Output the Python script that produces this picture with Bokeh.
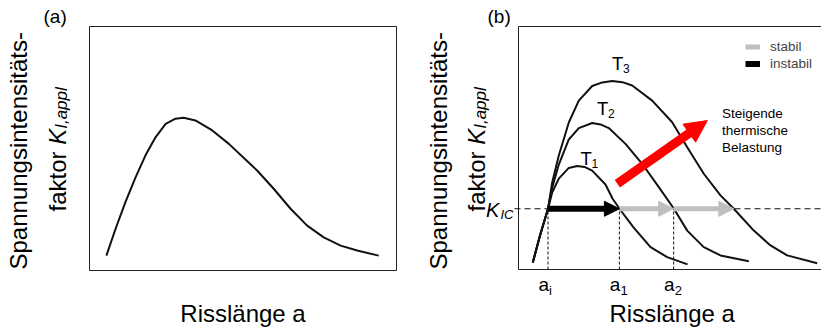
import numpy as np
from bokeh.plotting import figure
from bokeh.layouts import row
from bokeh.models import Range1d, Label, Arrow, NormalHead, Legend, LegendItem
from bokeh.embed import file_html
from bokeh.resources import INLINE

FONT = "Liberation Sans"

# ---------------- data: panel (a) ----------------
a_crack = [0.55, 0.85, 1.17, 1.50, 1.82, 2.15, 2.48, 2.80, 3.07, 3.45, 4.00,
           4.54, 5.08, 5.46, 6.00, 6.55, 7.09, 7.63, 8.18, 8.72, 9.42]
a_kappl = [0.61, 1.71, 2.80, 3.82, 4.71, 5.46, 6.01, 6.22, 6.26, 6.15, 5.74,
           5.19, 4.55, 4.10, 3.35, 2.53, 1.84, 1.36, 1.02, 0.82, 0.61]

# ---------------- data: panel (b) ----------------
t1_crack = [0.485, 0.729, 1.00, 1.142, 1.366, 1.705, 1.99, 2.237, 2.498, 2.949,
            3.186, 3.424, 3.898, 4.475, 5.04, 5.73]
t1_k = [0.29, 1.40, 2.50, 3.17, 3.74, 4.18, 4.26, 4.22, 4.07, 3.50,
        2.92, 2.50, 1.73, 0.92, 0.51, 0.21]

t2_crack = [0.485, 0.729, 1.00, 1.142, 1.366, 1.705, 2.044, 2.498, 2.78, 3.061, 3.627,
            4.193, 4.756, 5.264, 5.719, 6.281, 6.847, 7.807]
t2_k = [0.29, 1.40, 2.50, 3.37, 4.32, 5.35, 5.82, 6.03, 5.97, 5.82, 5.17,
        4.35, 3.39, 2.51, 1.60, 0.92, 0.58, 0.34]

t3_crack = [0.485, 0.729, 1.00, 1.142, 1.366, 1.705, 2.044, 2.498, 2.84, 3.176, 3.52,
            3.854, 4.532, 5.21, 5.719, 6.281, 6.847, 7.298, 7.976, 8.542, 9.108, 10.125]
t3_k = [0.29, 1.40, 2.50, 3.58, 4.69, 6.05, 6.95, 7.55, 7.70, 7.76, 7.71,
        7.57, 6.95, 6.06, 5.03, 3.94, 3.05, 2.50, 1.60, 0.99, 0.58, 0.26]

K_IC = 2.5
a_marks = [1.00, 3.42, 5.26]
a_mark_subs = ["i", "1", "2"]
growth_stops = [1.00, 3.42, 5.26, 7.30]
growth_kind = ["instabil", "stabil", "stabil"]
heat_crack = [3.35, 6.40]
heat_k = [3.53, 6.13]
curve_subs = ["1", "2", "3"]

GRAY = "#bfbfbf"
RED = "#ff0000"
INK = "#111111"
FRAME = "#222222"

# ---------------- layout (page pixels) ----------------
H = 331
A_LEFT, A_W = 0, 410
B_LEFT, B_W = 410, 411
A_BOX = (89, 396, 26, 270)    # left, right, top, bottom of the axes box
B_BOX = (518, 813, 26, 269)   # right value only sets the scale (box runs off the edge)
BASE_SHIFT = 0.3              # alphabetic-baseline correction, in em


def ranges(page_left, width, box):
    l, r, t, b = box
    sx = (r - l) / 10.0
    sy = (b - t) / 10.0
    xr = Range1d((page_left - l) / sx, (page_left + width - l) / sx)
    yr = Range1d((b - H) / sy, b / sy)
    fx = lambda px: (px - l) / sx
    fy = lambda py: (b - py) / sy
    return xr, yr, fx, fy, sx


def make_fig(width, xr, yr):
    p = figure(width=width, height=H, x_range=xr, y_range=yr,
               x_axis_location=None, y_axis_location=None, toolbar_location=None,
               output_backend="svg", min_border=0)
    p.min_border_left = p.min_border_right = p.min_border_top = p.min_border_bottom = 0
    p.xgrid.visible = False
    p.ygrid.visible = False
    p.outline_line_color = None
    p.background_fill_color = "white"
    p.border_fill_color = "white"
    return p


def lab(p, fx, fy, px, py, text, size, align="left", angle=0.0, style="normal",
        color="black"):
    if angle == 0.0:
        py -= BASE_SHIFT * size
    else:
        px -= BASE_SHIFT * size
    p.add_layout(Label(x=fx(px), y=fy(py), text=text, text_font=FONT,
                       text_font_size=f"{size}px", text_align=align,
                       text_baseline="alphabetic", angle=angle,
                       text_font_style=style, text_color=color))


def y_label(p, fx, fy, base1, base2):
    r = np.pi / 2
    lab(p, fx, fy, base1, 269, "Spannungsintensitäts-", 24, angle=r)
    lab(p, fx, fy, base2, 211, "faktor", 24, angle=r)
    lab(p, fx, fy, base2, 144.3, "K", 24, angle=r, style="italic")
    lab(p, fx, fy, base2 + 2, 128.3, "I,appl", 17, angle=r, style="italic")


# ---------------- panel (a) ----------------
axr, ayr, ax, ay, _ = ranges(A_LEFT, A_W, A_BOX)
pa = make_fig(A_W, axr, ayr)
pa.quad(left=[0], right=[10], bottom=[0], top=[10], fill_alpha=0,
        line_color=FRAME, line_width=1)
pa.line(a_crack, a_kappl, line_color=INK, line_width=2, line_join="round")
lab(pa, ax, ay, 43, 21.5, "(a)", 19)
y_label(pa, ax, ay, 25, 64)
lab(pa, ax, ay, 242.5, 320, "Risslänge a", 24, align="center")

# ---------------- panel (b) ----------------
bxr, byr, bx, by, bsx = ranges(B_LEFT, B_W, B_BOX)
pb = make_fig(B_W, bxr, byr)
xe = bxr.end
pb.line([xe, 0, 0, xe], [10, 10, 0, 0], line_color=FRAME, line_width=1)

pb.segment(x0=[bx(514)], y0=[K_IC], x1=[xe], y1=[K_IC], line_color=INK,
           line_width=1.2, line_dash="6 4")
pb.segment(x0=a_marks, y0=[0] * len(a_marks), x1=a_marks, y1=[K_IC] * len(a_marks),
           line_color=INK, line_width=1, line_dash="3 2")

for xs, ys in [(t1_crack, t1_k), (t2_crack, t2_k), (t3_crack, t3_k)]:
    pb.line(xs, ys, line_color=INK, line_width=2, line_join="round")

# growth arrows: shafts as segments (also used by the legend), heads as annotations
HEAD = 15
head_len = HEAD / bsx
shaft = {}
for kind, col, w in [("stabil", GRAY, 5), ("instabil", "black", 6)]:
    idx = [i for i, k in enumerate(growth_kind) if k == kind]
    x0 = [growth_stops[i] for i in idx]
    x1 = [growth_stops[i + 1] - 0.8 * head_len for i in idx]
    shaft[kind] = pb.segment(x0=x0, y0=[K_IC] * len(idx), x1=x1, y1=[K_IC] * len(idx),
                             line_color=col, line_width=w, line_cap="butt")
for i, kind in enumerate(growth_kind):
    col = "black" if kind == "instabil" else GRAY
    pb.add_layout(Arrow(end=NormalHead(size=HEAD, fill_color=col, line_color=col, line_width=1),
                        x_start=growth_stops[i + 1] - head_len, y_start=K_IC,
                        x_end=growth_stops[i + 1], y_end=K_IC,
                        line_alpha=0, line_width=1))

pb.add_layout(Arrow(end=NormalHead(size=22, fill_color=RED, line_color=RED, line_width=1),
                    x_start=heat_crack[0], y_start=heat_k[0],
                    x_end=heat_crack[1], y_end=heat_k[1],
                    line_color=RED, line_width=9, line_cap="butt"))

leg = Legend(items=[LegendItem(label="stabil", renderers=[shaft["stabil"]]),
                    LegendItem(label="instabil", renderers=[shaft["instabil"]])],
             location=(745 - B_LEFT, H - 72), orientation="vertical", padding=0,
             spacing=0, margin=0, glyph_width=15, glyph_height=17, label_height=17,
             label_standoff=10, label_text_font=FONT, label_text_font_size="13.5px",
             border_line_color=None, background_fill_alpha=0)
pb.add_layout(leg)

# texts
lab(pb, bx, by, 487, 21.5, "(b)", 19)
y_label(pb, bx, by, 445, 483)
lab(pb, bx, by, 671.7, 320, "Risslänge a", 24, align="center")
lab(pb, bx, by, 485.5, 215, "K", 20, style="italic")
lab(pb, bx, by, 500, 218, "IC", 13, style="italic")

t_pos = [(580, 163.5), (596.5, 113.5), (611.5, 68.5)]
for (tx, ty), s in zip(t_pos, curve_subs):
    lab(pb, bx, by, tx, ty, "T", 18.5)
    lab(pb, bx, by, tx + 11, ty + 3.5, s, 12)

for am, s in zip(a_marks, a_mark_subs):
    tick_px = B_BOX[0] + am * bsx
    lab(pb, bx, by, tick_px + 1, 290, "a", 19, align="right")
    lab(pb, bx, by, tick_px + 1, 293.5, s, 13)

for py, t in [(117, "Steigende"), (134, "thermische"), (151, "Belastung")]:
    lab(pb, bx, by, 721.5, py, t, 13.5)

layout = row(pa, pb)
open("out.html", "w").write(file_html(layout, INLINE))
